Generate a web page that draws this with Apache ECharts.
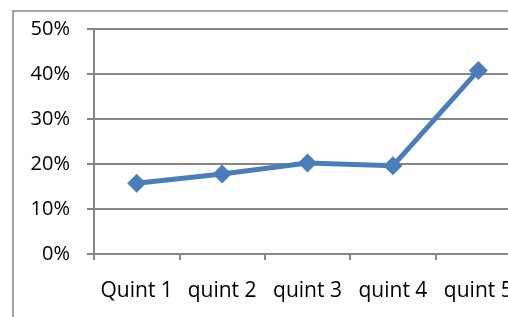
<!DOCTYPE html>
<html>
<head>
<meta charset="utf-8">
<script src="https://cdn.jsdelivr.net/npm/echarts@6/dist/echarts.min.js"></script>
<style>
html,body{margin:0;padding:0;background:#fff;overflow:hidden;}
#chart{width:508px;height:317px;}
</style>
</head>
<body>
<div id="chart"></div>
<script>
var categories = ['Quint 1', 'quint 2', 'quint 3', 'quint 4', 'quint 5'];
var values = [15.7, 17.8, 20.2, 19.6, 40.8];
var yTicks = [0, 10, 20, 30, 40, 50];

var chart = echarts.init(document.getElementById('chart'), null, {renderer: 'canvas'});
chart.setOption({
  animation: false,
  backgroundColor: '#ffffff',
  textStyle: {fontFamily: 'Open Sans'},
  graphic: [{
    type: 'rect',
    z: 0,
    shape: {x: 13, y: 11, width: 520, height: 340},
    style: {fill: 'none', stroke: '#a3a3a3', lineWidth: 2}
  }],
  grid: {left: 94, top: 29, width: 427, height: 225, containLabel: false, outerBoundsMode: 'none'},
  xAxis: {
    type: 'category',
    data: categories,
    boundaryGap: true,
    axisLine: {show: true, lineStyle: {color: '#878787', width: 2}},
    axisTick: {show: true, length: 6, alignWithLabel: false, lineStyle: {color: '#878787', width: 2}},
    axisLabel: {color: '#000', fontSize: 21, fontFamily: 'Open Sans', margin: 27, interval: 0, hideOverlap: false}
  },
  yAxis: {
    type: 'value',
    min: yTicks[0],
    max: yTicks[yTicks.length - 1],
    interval: 10,
    axisLine: {show: true, lineStyle: {color: '#878787', width: 2}},
    axisTick: {show: true, length: 7, lineStyle: {color: '#878787', width: 2}},
    splitLine: {show: true, lineStyle: {color: '#878787', width: 2}},
    axisLabel: {color: '#000', fontSize: 20, fontFamily: 'Open Sans', margin: 24,
      formatter: function (v) { return v + '%'; }}
  },
  series: [{
    type: 'line',
    data: values,
    symbol: 'diamond',
    symbolSize: 19,
    lineStyle: {color: '#4a7ebb', width: 5},
    itemStyle: {color: '#4a7ebb'},
    z: 3
  }]
});
</script>
</body>
</html>
